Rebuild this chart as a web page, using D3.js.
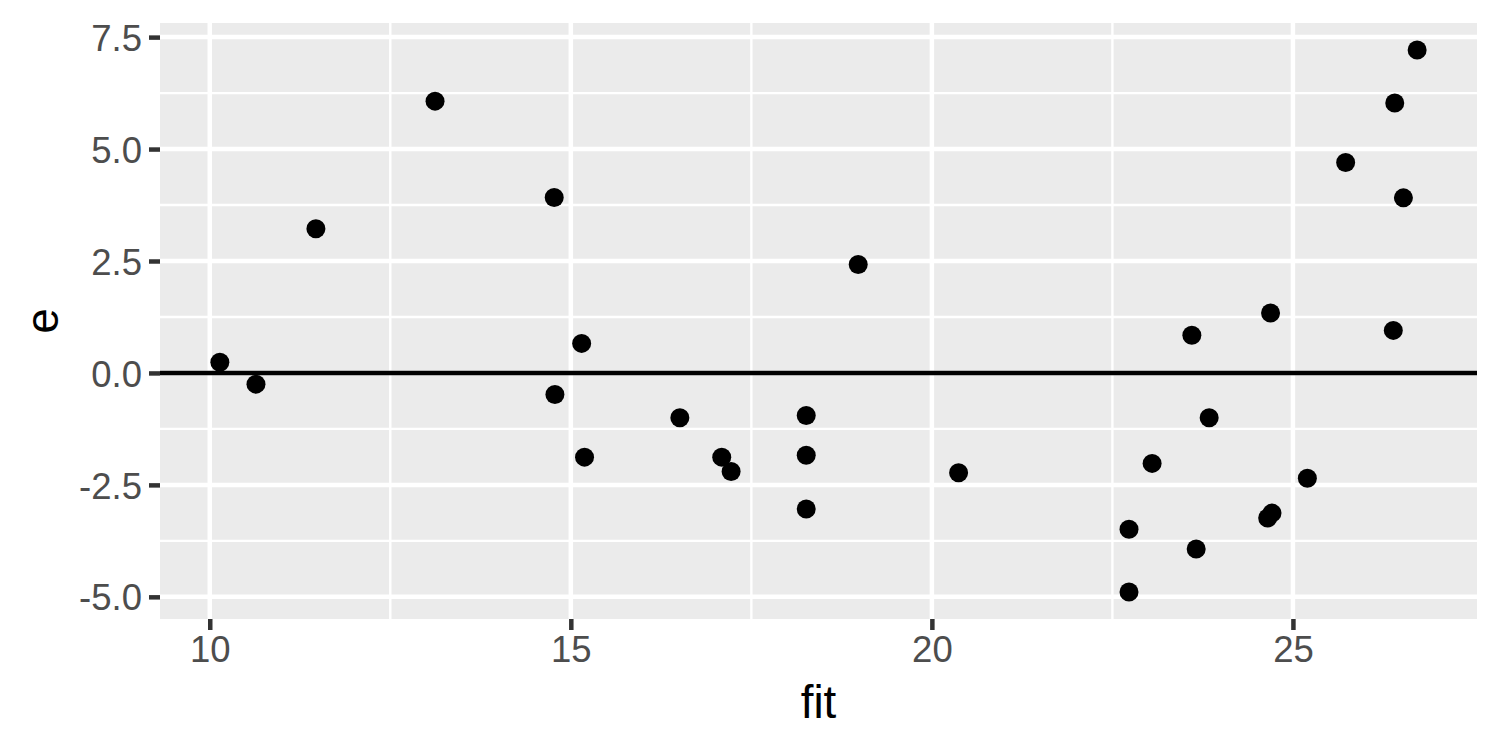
<!DOCTYPE html>
<html>
<head>
<meta charset="utf-8">
<script src="https://cdn.jsdelivr.net/npm/d3@7"></script>
<style>
body { margin: 0; background: #fff; }
text { font-family: "Liberation Sans", Arial, sans-serif; }
</style>
</head>
<body>
<div class="container"></div>
<script>
const WIDTH = 1500;
const HEIGHT = 750;
const LEFT = 160, RIGHT = 1477, TOP = 23, BOTTOM = 619;

// fitted values and residuals
var fit = [10.14, 10.64, 11.47, 13.12, 14.77, 14.78, 15.15, 15.19, 16.51, 17.09,
           17.22, 18.26, 18.26, 18.26, 18.98, 20.37, 22.73, 22.73, 23.05, 23.60,
           23.66, 23.84, 24.65, 24.71, 24.69, 25.20, 25.73, 26.41, 26.39, 26.53, 26.72];
var e   = [0.24, -0.25, 3.22, 6.07, 3.92, -0.48, 0.66, -1.88, -1.00, -1.88,
           -2.20, -0.95, -1.84, -3.04, 2.42, -2.23, -3.49, -4.89, -2.02, 0.84,
           -3.93, -1.00, -3.24, -3.13, 1.34, -2.35, 4.70, 6.03, 0.95, 3.91, 7.21];

var xBreaks = [10, 15, 20, 25];
var xMinor = [12.5, 17.5, 22.5];
var yBreaks = [-5.0, -2.5, 0.0, 2.5, 5.0, 7.5];
var yMinor = [-3.75, -1.25, 1.25, 3.75, 6.25];

var expand = function(lo, hi){
	var d = (hi - lo) * 0.05;
	return [lo - d, hi + d];
};

var load = function(){
	var xScale = d3.scaleLinear()
		.domain(expand(d3.min(fit), d3.max(fit)))
		.range([LEFT, RIGHT]);

	var yScale = d3.scaleLinear()
		.domain(expand(d3.min(e), d3.max(e)))
		.range([BOTTOM, TOP]);

	var svg = d3.select(".container").append("svg")
		.attr("width", WIDTH)
		.attr("height", HEIGHT);

	// panel
	svg.append("rect")
		.attr("x", LEFT).attr("y", TOP)
		.attr("width", RIGHT - LEFT).attr("height", BOTTOM - TOP)
		.attr("fill", "#EBEBEB");

	var grid = svg.append("g");
	grid.selectAll(".ymin").data(yMinor).enter().append("line")
		.attr("x1", LEFT).attr("x2", RIGHT)
		.attr("y1", d => yScale(d)).attr("y2", d => yScale(d))
		.attr("stroke", "#fff").attr("stroke-width", 2.4);
	grid.selectAll(".xmin").data(xMinor).enter().append("line")
		.attr("y1", TOP).attr("y2", BOTTOM)
		.attr("x1", d => xScale(d)).attr("x2", d => xScale(d))
		.attr("stroke", "#fff").attr("stroke-width", 2.4);
	grid.selectAll(".ymaj").data(yBreaks).enter().append("line")
		.attr("x1", LEFT).attr("x2", RIGHT)
		.attr("y1", d => yScale(d)).attr("y2", d => yScale(d))
		.attr("stroke", "#fff").attr("stroke-width", 4.5);
	grid.selectAll(".xmaj").data(xBreaks).enter().append("line")
		.attr("y1", TOP).attr("y2", BOTTOM)
		.attr("x1", d => xScale(d)).attr("x2", d => xScale(d))
		.attr("stroke", "#fff").attr("stroke-width", 4.5);

	// horizontal reference at zero
	svg.append("line")
		.attr("x1", LEFT).attr("x2", RIGHT)
		.attr("y1", yScale(0)).attr("y2", yScale(0))
		.attr("stroke", "#000").attr("stroke-width", 4.5);

	svg.append("g").selectAll("circle").data(fit)
		.enter()
		.append("circle")
		.attr("cx", d => xScale(d))
		.attr("cy", (d, i) => yScale(e[i]))
		.attr("r", 9.5)
		.attr("fill", "#000");

	// axes
	var xAxis = d3.axisBottom(xScale).tickValues(xBreaks).tickSize(11).tickPadding(6)
		.tickFormat(d => String(d));
	var yAxis = d3.axisLeft(yScale).tickValues(yBreaks).tickSize(11).tickPadding(7)
		.tickFormat(d => d.toFixed(1));  // plain hyphen minus, like R

	var xAxisGroup = svg.append("g")
		.attr("transform", "translate(0," + BOTTOM + ")")
		.call(xAxis);
	var yAxisGroup = svg.append("g")
		.attr("transform", "translate(" + LEFT + ",0)")
		.call(yAxis);

	[xAxisGroup, yAxisGroup].forEach(function(g){
		g.select(".domain").remove();
		g.selectAll(".tick line").attr("stroke", "#333333").attr("stroke-width", 4.5);
		g.selectAll(".tick text")
			.attr("fill", "#4D4D4D")
			.style("font-size", "36.5px")
			.style("font-family", "'Liberation Sans', Arial, sans-serif");
	});
	yAxisGroup.selectAll(".tick text").attr("dy", "0.36em");

	svg.append("text")
		.attr("x", (LEFT + RIGHT) / 2).attr("y", 718)
		.attr("text-anchor", "middle")
		.style("font-size", "45.8px")
		.text("fit");

	svg.append("text")
		.attr("transform", "translate(58," + (TOP + BOTTOM) / 2 + ") rotate(-90)")
		.attr("text-anchor", "middle")
		.style("font-size", "45.8px")
		.text("e");
};

window.onload = load;
</script>
</body>
</html>
